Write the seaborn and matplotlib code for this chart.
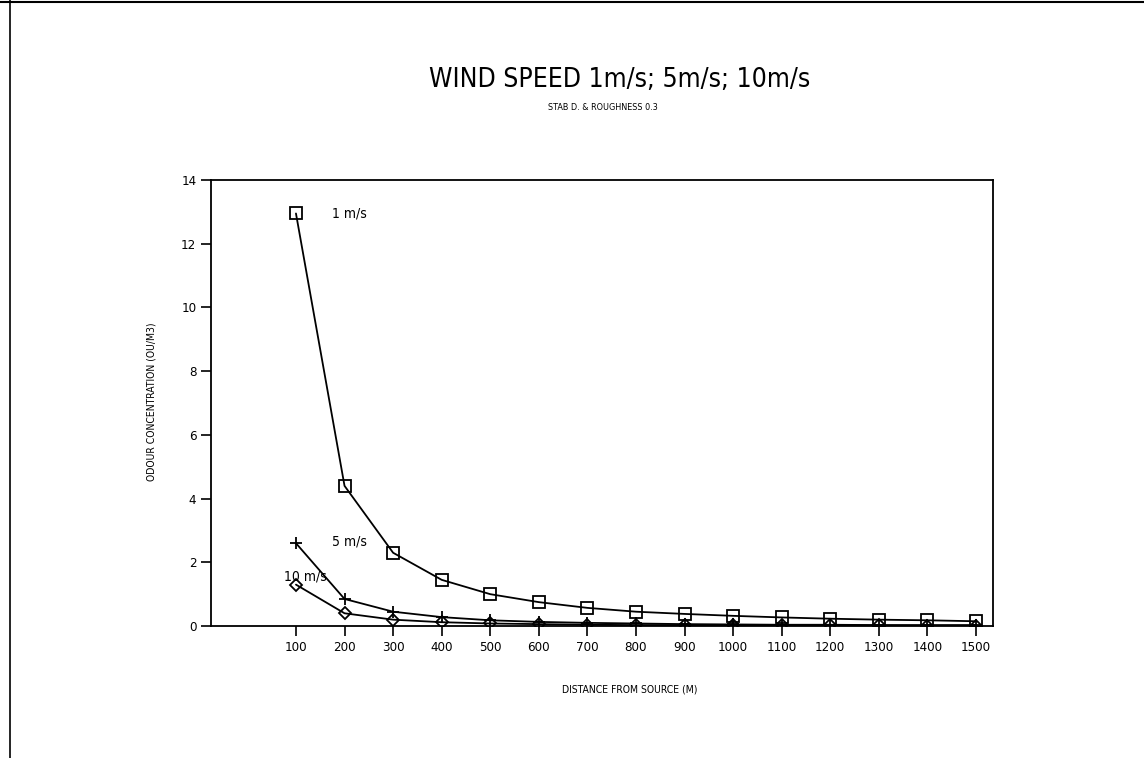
import pandas as pd
import matplotlib.pyplot as plt
import seaborn as sns
from matplotlib.lines import Line2D

# --- data ---
distance = [100, 200, 300, 400, 500, 600, 700, 800, 900, 1000, 1100, 1200, 1300, 1400, 1500]
conc_1ms = [12.95, 4.4, 2.3, 1.45, 1.0, 0.75, 0.57, 0.45, 0.38, 0.32, 0.27, 0.23, 0.2, 0.18, 0.15]
conc_5ms = [2.6, 0.85, 0.45, 0.28, 0.18, 0.13, 0.1, 0.08, 0.06, 0.05, 0.04, 0.04, 0.03, 0.03, 0.03]
conc_10ms = [1.3, 0.4, 0.2, 0.12, 0.08, 0.06, 0.04, 0.03, 0.03, 0.02, 0.02, 0.02, 0.02, 0.01, 0.01]
y_ticks = [0, 2, 4, 6, 8, 10, 12, 14]

sns.set_style('white')
plt.rcParams['font.family'] = ['DejaVu Sans']
plt.rcParams['font.stretch'] = 'condensed'
plt.rcParams['text.color'] = 'black'
plt.rcParams['axes.labelcolor'] = 'black'
plt.rcParams['xtick.color'] = 'black'
plt.rcParams['ytick.color'] = 'black'

fig = plt.figure(figsize=(11.44, 7.58), dpi=100)
ax = fig.add_axes([0.1844, 0.1741, 0.6836, 0.5884])

series = [
    (conc_1ms, 's', '1 m/s'),
    (conc_5ms, '+', '5 m/s'),
    (conc_10ms, 'D', '10 m/s'),
]
for vals, mk, name in series:
    df = pd.DataFrame({'dist': distance, 'conc': vals})
    sns.lineplot(data=df, x='dist', y='conc', ax=ax, color='black', lw=1.3,
                 marker=mk, markersize=9 if mk != 'D' else 6,
                 markerfacecolor='none', markeredgecolor='black', markeredgewidth=1.3)

# series labels
ax.text(distance[0] + 75, conc_1ms[0], '1 m/s', fontsize=10, va='center')
ax.text(distance[0] + 75, conc_5ms[0] + 0.05, '5 m/s', fontsize=10, va='center')
ax.text(distance[0] - 25, conc_10ms[0] + 0.25, '10 m/s', fontsize=10, va='center')

ax.set_xlim(-75, 1535)
ax.set_ylim(0, 14)
ax.set_xticks(distance)
ax.set_yticks(y_ticks)
ax.tick_params(axis='both', direction='out', length=7, width=1.2, labelsize=9.5,
               bottom=True, left=True)
for s in ax.spines.values():
    s.set_color('black')
    s.set_linewidth(1.3)

ax.set_xlabel('DISTANCE FROM SOURCE (M)', fontsize=7.5)
ax.set_ylabel('ODOUR CONCENTRATION (OU/M3)', fontsize=7.5)
ax.xaxis.set_label_coords(0.536, -0.132)
ax.yaxis.set_label_coords(-0.069, 0.502)

fig.text(0.542, 0.894, 'WIND SPEED 1m/s; 5m/s; 10m/s', fontsize=19, ha='center', va='center')
fig.text(0.527, 0.858, 'STAB D. & ROUGHNESS 0.3', fontsize=6.5, ha='center', va='center')

# scanned page border
fig.add_artist(Line2D([0, 1], [0.997, 0.997], color='black', lw=1.5, transform=fig.transFigure))
fig.add_artist(Line2D([0.009, 0.009], [0, 1], color='black', lw=1.2, transform=fig.transFigure))

fig.savefig('out.png', dpi=100)
